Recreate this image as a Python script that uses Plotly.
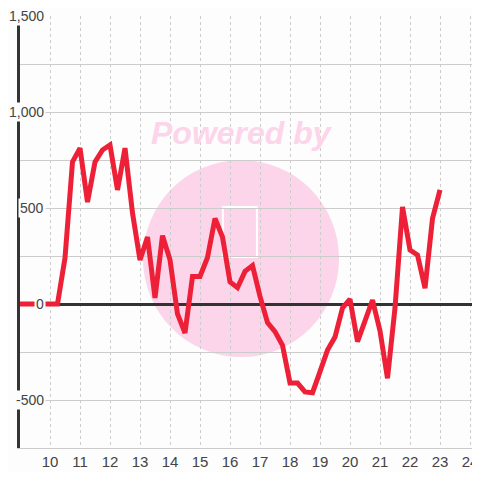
import plotly.graph_objects as go

# ---- data ----
x_vals = [9.0, 9.25, 9.5, 9.75, 10.0, 10.25, 10.5, 10.75, 11.0, 11.25, 11.5, 11.75,
          12.0, 12.25, 12.5, 12.75, 13.0, 13.25, 13.5, 13.75, 14.0, 14.25, 14.5, 14.75,
          15.0, 15.25, 15.5, 15.75, 16.0, 16.25, 16.5, 16.75, 17.0, 17.25, 17.5, 17.75,
          18.0, 18.25, 18.5, 18.75, 19.0, 19.25, 19.5, 19.75, 20.0, 20.25, 20.5, 20.75,
          21.0, 21.25, 21.5, 21.75, 22.0, 22.25, 22.5, 22.75, 23.0]
y_vals = [0, 0, 0, 0, 0, 0, 240, 740, 812, 531, 740, 802,
          828, 594, 812, 474, 229, 349, 31, 356, 230, -52, -151, 143,
          143, 242, 445, 349, 115, 85, 170, 200, 40, -97, -144, -215,
          -412, -412, -458, -462, -352, -240, -172, -20, 25, -196, -88, 21,
          -140, -387, -20, 505, 281, 255, 82, 446, 594]

x_ticks = list(range(10, 25))
y_label_vals = [1500, 1000, 500, 0, -500]
y_label_text = ["1,500", "1,000", "500", "0", "-500"]

BG = "#fcfdfc"
FONT = "Liberation Sans, Arial, sans-serif"

fig = go.Figure()
fig.add_trace(go.Scatter(
    x=x_vals, y=y_vals, mode="lines",
    line=dict(color="#ee2038", width=5),
    hoverinfo="skip", showlegend=False,
))

# watermark circle + text
fig.add_shape(type="circle", xref="paper", yref="paper",
              x0=0.2674, x1=0.6935, y0=0.2106, y1=0.6667,
              fillcolor="#fcd5ea", line=dict(width=0), layer="below")
fig.add_shape(type="rect", xref="paper", yref="paper",
              x0=0.441, x1=0.515, y0=0.442, y1=0.558,
              fillcolor="rgba(0,0,0,0)", line=dict(color="white", width=2), layer="below")
fig.add_annotation(text="Powered by", xref="paper", yref="paper", x=0.4826, y=0.729,
                   showarrow=False, xanchor="center", yanchor="middle",
                   font=dict(family=FONT, size=32, color="#fcd5ea", weight="bold", style="italic"))

# y tick labels
for v, t in zip(y_label_vals, y_label_text):
    fig.add_annotation(text=t, xref="paper", yref="y", x=0.057, y=v,
                       showarrow=False, xanchor="right", yanchor="middle",
                       bgcolor=BG, borderpad=1,
                       font=dict(family=FONT, size=14, color="#444"))

# page body has an 8px margin, so the figure is smaller and offsets are reduced by 8
fig.update_layout(
    width=472, height=464,
    margin=dict(l=12, r=0, t=8, b=24, autoexpand=False),
    paper_bgcolor=BG, plot_bgcolor=BG,
    font=dict(family=FONT, size=15, color="#444"),
    showlegend=False,
)
fig.update_xaxes(
    range=[9, 24.333], tickmode="array", tickvals=x_ticks,
    ticktext=[str(t) for t in x_ticks],
    showgrid=True, gridcolor="#cccccc", gridwidth=1, griddash="dot",
    showline=True, linecolor="#cccccc", linewidth=1,
    zeroline=False, ticks="", fixedrange=True, automargin=False,
    ticklabeloverflow="allow",
)
fig.update_yaxes(
    range=[-750, 1500], dtick=250, tick0=0,
    showticklabels=False,
    showgrid=True, gridcolor="#cccccc", gridwidth=1,
    showline=True, linecolor="#333333", linewidth=3,
    zeroline=True, zerolinecolor="#333333", zerolinewidth=3,
    ticks="", fixedrange=True, automargin=False,
)

fig.write_html("out.html")
